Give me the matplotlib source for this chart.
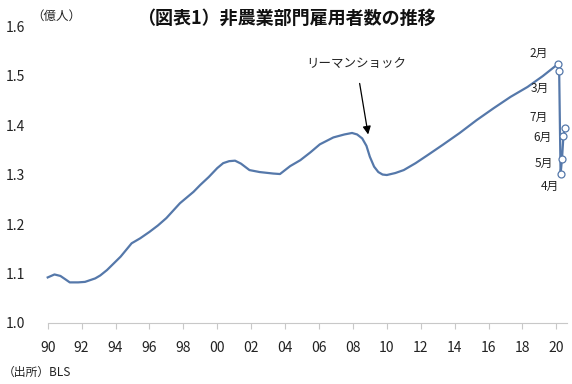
import matplotlib
matplotlib.use("Agg")
import matplotlib.pyplot as plt

plt.rcParams['font.family'] = ['Noto Sans CJK JP', 'DejaVu Sans']

# Readings (decimal year, 100 million persons)
years = [1990.0, 1990.4, 1990.75, 1991.05, 1991.3, 1991.8, 1992.2, 1992.8, 1993.1, 1993.5,
         1994.3, 1994.95, 1995.45, 1996.0, 1996.5, 1997.0, 1997.8, 1998.6, 1999.0, 1999.5,
         2000.0, 2000.35, 2000.7, 2001.05, 2001.4, 2001.9, 2002.5, 2003.3, 2003.7, 2004.3,
         2004.9, 2005.5, 2006.05, 2006.85, 2007.5, 2007.95, 2008.25, 2008.55, 2008.8, 2009.0,
         2009.25, 2009.5, 2009.75, 2010.0, 2010.5, 2011.0, 2011.7, 2012.4, 2013.3, 2014.3,
         2015.3, 2016.3, 2017.3, 2018.3, 2019.2, 2020.083]
values = [1.092, 1.098, 1.095, 1.088, 1.082, 1.082, 1.083, 1.090, 1.096, 1.107,
          1.134, 1.161, 1.171, 1.184, 1.197, 1.212, 1.242, 1.265, 1.279, 1.295,
          1.313, 1.323, 1.327, 1.328, 1.322, 1.309, 1.305, 1.302, 1.301, 1.317,
          1.329, 1.345, 1.361, 1.375, 1.381, 1.384, 1.381, 1.373, 1.358, 1.336,
          1.316, 1.305, 1.300, 1.299, 1.303, 1.309, 1.323, 1.339, 1.360, 1.384,
          1.410, 1.434, 1.457, 1.477, 1.499, 1.523]

months_x = [2020.083, 2020.167, 2020.25, 2020.333, 2020.417, 2020.5]
months_v = [1.523, 1.510, 1.301, 1.331, 1.377, 1.395]
month_labels = ['2月', '3月', '4月', '5月', '6月', '7月']
label_offsets = [(-14, 8), (-14, -13), (-8, -9), (-13, -3), (-15, -1), (-19, 7.5)]

xticks = list(range(1990, 2021, 2))
xticklabels = ['90', '92', '94', '96', '98', '00', '02', '04', '06', '08', '10', '12', '14', '16', '18', '20']
yticks = [1.0, 1.1, 1.2, 1.3, 1.4, 1.5, 1.6]

color = '#5578AA'

fig = plt.figure(figsize=(5.72, 3.84), dpi=100)
ax = fig.add_axes([0.0834, 0.159, 0.907, 0.773])

ax.plot(years + months_x[1:], values + months_v[1:], color=color, lw=1.6,
        solid_joinstyle='round', clip_on=False)
ax.plot(months_x, months_v, linestyle='none', marker='o', ms=5, mfc='white', mec=color,
        mew=0.9, clip_on=False, zorder=5)

for mx, mv, lab, off in zip(months_x, months_v, month_labels, label_offsets):
    ax.annotate(lab, (mx, mv), xytext=off, textcoords='offset points', fontsize=8.5,
                ha='center', va='center', color='#222222')

ax.set_xlim(1990, 2020.6)
ax.set_ylim(1.0, 1.6)
ax.set_xticks(xticks)
ax.set_xticklabels(xticklabels)
ax.set_yticks(yticks)
ax.set_yticklabels([f'{v:.1f}' for v in yticks])

for s in ['top', 'right', 'left']:
    ax.spines[s].set_visible(False)
ax.spines['bottom'].set_color('#c8c8c8')
ax.tick_params(axis='x', direction='out', length=4, color='#c8c8c8', labelsize=10, pad=9,
               labelcolor='#222222')
ax.tick_params(axis='y', length=0, labelsize=10, pad=16, labelcolor='#222222')

ax.annotate('リーマンショック', xy=(2008.9, 1.381), xytext=(2008.2, 1.525),
            fontsize=9, ha='center', va='center', color='#222222',
            arrowprops=dict(arrowstyle='-|>', color='black', lw=0.9, mutation_scale=12,
                            shrinkA=8, shrinkB=0))

fig.text(0.50, 0.953, '（図表1）非農業部門雇用者数の推移', ha='center', va='center',
         fontsize=13, fontweight='bold', color='#111111')
fig.text(0.055, 0.958, '（億人）', ha='left', va='center', fontsize=9, color='#222222')
fig.text(0.005, 0.030, '（出所）BLS', ha='left', va='center', fontsize=8.5, color='#222222')

fig.savefig('out.png', dpi=100, facecolor='white')
